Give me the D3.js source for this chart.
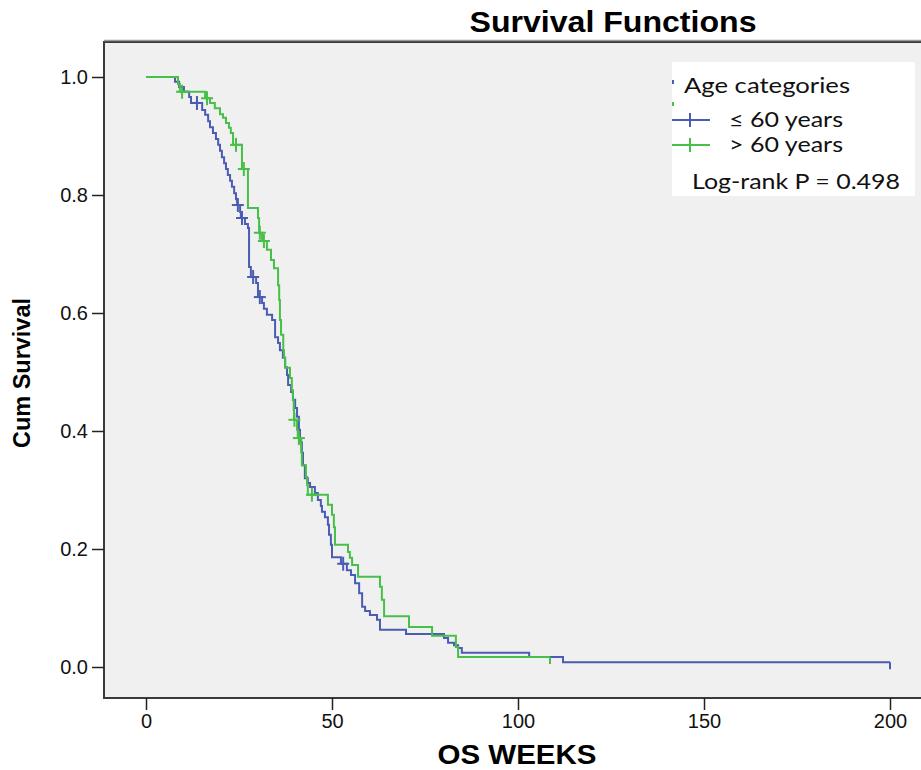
<!DOCTYPE html>
<html>
<head>
<meta charset="utf-8">
<script src="https://cdn.jsdelivr.net/npm/d3@7"></script>
<style>
  body { margin: 0; background: #fff; }
  svg { display: block; }
</style>
</head>
<body>
<div id="chart"></div>
<script>
// tick labels
const xTicks = [0, 50, 100, 150, 200]
const yTicks = [0, 0.2, 0.4, 0.6, 0.8, 1.0]

// <= 60 years: [week, survival after the drop]
const youngSteps = [
  [7.8, 0.992], [8.9, 0.983], [10.2, 0.975], [11.6, 0.966], [12.1, 0.956],
  [15.1, 0.944], [15.9, 0.936], [16.7, 0.925], [17.2, 0.915], [18.0, 0.905],
  [18.8, 0.895], [19.4, 0.885], [19.9, 0.875], [20.4, 0.864], [21.0, 0.854],
  [21.5, 0.844], [22.0, 0.834], [22.6, 0.824], [23.1, 0.814], [23.7, 0.803],
  [24.2, 0.793], [24.5, 0.783], [25.3, 0.771], [25.5, 0.761], [26.6, 0.751],
  [27.4, 0.744], [27.7, 0.678], [28.2, 0.661], [29.6, 0.651], [30.1, 0.627],
  [31.2, 0.617], [31.7, 0.607], [32.5, 0.597], [33.9, 0.588], [34.7, 0.559],
  [35.5, 0.549], [36.0, 0.537], [36.8, 0.524], [37.4, 0.508], [37.9, 0.495],
  [38.2, 0.478], [39.0, 0.466], [39.5, 0.453], [40.1, 0.439], [40.6, 0.424],
  [41.1, 0.402], [41.4, 0.381], [41.9, 0.363], [42.2, 0.342], [42.7, 0.320],
  [43.5, 0.312], [44.1, 0.305], [45.4, 0.295], [46.2, 0.283], [47.0, 0.273],
  [47.3, 0.263], [48.1, 0.254], [48.9, 0.241], [49.2, 0.224], [49.7, 0.207],
  [50.0, 0.186], [52.4, 0.175], [54.0, 0.164], [55.1, 0.156], [56.2, 0.142],
  [57.3, 0.125], [58.1, 0.102], [58.9, 0.095], [60.2, 0.088], [62.1, 0.080],
  [62.9, 0.063], [69.9, 0.056], [80.1, 0.049], [81.2, 0.041], [82.8, 0.037],
  [83.9, 0.032], [84.9, 0.024], [103.0, 0.017], [112.1, 0.008]
]
const youngCensored = [13.7, 24.7, 25.8, 28.8, 30.6, 53.0]
const youngLast = 200

// > 60 years
const oldSteps = [
  [8.6, 0.988], [9.1, 0.975], [15.9, 0.964], [17.2, 0.956], [18.5, 0.947],
  [19.9, 0.937], [20.7, 0.931], [21.5, 0.922], [22.3, 0.914], [22.8, 0.905],
  [23.4, 0.885], [25.8, 0.844], [27.4, 0.778], [30.1, 0.761], [30.4, 0.736],
  [31.2, 0.722], [32.5, 0.707], [33.6, 0.690], [34.4, 0.676], [35.5, 0.647],
  [35.8, 0.622], [36.0, 0.588], [36.3, 0.563], [36.9, 0.537], [37.1, 0.524],
  [37.4, 0.507], [38.7, 0.490], [39.2, 0.469], [39.5, 0.453], [39.7, 0.436],
  [39.8, 0.419], [40.6, 0.402], [40.8, 0.388], [41.7, 0.364], [41.9, 0.342],
  [43.0, 0.322], [43.3, 0.308], [43.5, 0.292], [48.9, 0.275], [50.0, 0.258],
  [50.5, 0.237], [50.8, 0.207], [54.3, 0.195], [54.8, 0.185], [55.4, 0.173],
  [57.0, 0.153], [62.9, 0.136], [63.4, 0.114], [64.0, 0.086], [70.7, 0.068],
  [76.9, 0.053], [83.3, 0.034], [83.9, 0.017]
]
const oldCensored = [9.7, 16.4, 24.2, 26.3, 30.6, 31.7, 39.9, 41.1, 44.6]
const oldLast = 108.6

const groups = [
  {name: '≤ 60 years', steps: youngSteps, censored: youngCensored, last: youngLast, color: '#4a5cb4'},
  {name: '> 60 years', steps: oldSteps, censored: oldCensored, last: oldLast, color: '#48bf48'}
]

const W = 921
const H = 770
const frame = {left: 104, top: 42, right: 930, bottom: 698}

const svg = d3.select('#chart').append('svg')
  .attr('width', W)
  .attr('height', H)
  .style('font-family', 'Liberation Sans, Arial, sans-serif')

const x = d3.scaleLinear().domain([0, 200]).range([146, 890])
const y = d3.scaleLinear().domain([0, 1]).range([667, 77])

// plot frame
svg.append('rect')
  .attr('x', frame.left)
  .attr('y', frame.top)
  .attr('width', frame.right - frame.left)
  .attr('height', frame.bottom - frame.top)
  .attr('fill', '#f0f0f0')
  .attr('stroke', '#3a3a3a')
  .attr('stroke-width', 2)
svg.append('line')
  .attr('x1', frame.left).attr('x2', W)
  .attr('y1', frame.top - 1.5).attr('y2', frame.top - 1.5)
  .attr('stroke', '#9a9a9a')
  .attr('stroke-width', 1.5)

// axes
const yAxis = svg.append('g')
  .attr('transform', `translate(${frame.left},0)`)
  .call(d3.axisLeft(y).tickValues(yTicks).tickFormat(d3.format('.1f')).tickSize(12).tickPadding(4))
const xAxis = svg.append('g')
  .attr('transform', `translate(0,${frame.bottom})`)
  .call(d3.axisBottom(x).tickValues(xTicks).tickSize(12).tickPadding(4))
;[xAxis, yAxis].forEach(a => {
  a.select('.domain').remove()
  a.selectAll('line').attr('stroke', '#222').attr('stroke-width', 1.5)
  a.selectAll('text')
    .attr('fill', '#111')
    .style('font-size', '20px')
    .style('font-family', 'Liberation Sans Narrow, Liberation Sans, Arial, sans-serif')
})

// step curves
const line = d3.line()
  .x(d => x(d[0]))
  .y(d => y(d[1]))
  .curve(d3.curveStepAfter)

const levelAt = (steps, t) => {
  let s = 1
  steps.forEach(d => { if (d[0] <= t) s = d[1] })
  return s
}

groups.forEach(g => {
  const endLevel = levelAt(g.steps, g.last)
  const pts = [[0, 1]].concat(g.steps, [[g.last, endLevel]])
  svg.append('path')
    .datum(pts)
    .attr('d', line)
    .attr('fill', 'none')
    .attr('stroke', g.color)
    .attr('stroke-width', 2)

  const marks = svg.append('g').attr('stroke', g.color).attr('stroke-width', 2)
  g.censored.forEach(t => {
    const cx = x(t)
    const cy = y(levelAt(g.steps, t))
    marks.append('line').attr('x1', cx - 6).attr('x2', cx + 6).attr('y1', cy).attr('y2', cy)
    marks.append('line').attr('x1', cx).attr('x2', cx).attr('y1', cy - 7).attr('y2', cy + 7)
  })
  // last censored case only shows a short drop tick
  marks.append('line')
    .attr('x1', x(g.last)).attr('x2', x(g.last))
    .attr('y1', y(endLevel)).attr('y2', y(endLevel) + 7)
})

// titles
svg.append('text')
  .attr('x', 613).attr('y', 32)
  .attr('text-anchor', 'middle')
  .style('font-size', '30px')
  .style('font-weight', 'bold')
  .attr('textLength', 287)
  .attr('lengthAdjust', 'spacingAndGlyphs')
  .text('Survival Functions')
svg.append('text')
  .attr('x', 517).attr('y', 764)
  .attr('text-anchor', 'middle')
  .style('font-size', '28px')
  .style('font-weight', 'bold')
  .attr('textLength', 159)
  .attr('lengthAdjust', 'spacingAndGlyphs')
  .text('OS WEEKS')
svg.append('text')
  .attr('transform', 'translate(30,373) rotate(-90)')
  .attr('text-anchor', 'middle')
  .style('font-size', '23px')
  .style('font-weight', 'bold')
  .attr('textLength', 150)
  .attr('lengthAdjust', 'spacingAndGlyphs')
  .text('Cum Survival')

// legend
const legend = svg.append('g').style('font-family', 'Lato, Noto Sans, sans-serif')
legend.append('rect')
  .attr('x', 672).attr('y', 62)
  .attr('width', 243).attr('height', 134)
  .attr('fill', '#fff')
legend.append('text')
  .attr('x', 684).attr('y', 93)
  .style('font-size', '22px')
  .attr('fill', '#111')
  .attr('textLength', 166)
  .attr('lengthAdjust', 'spacingAndGlyphs')
  .text('Age categories')
groups.forEach((g, i) => {
  const ly = 120 + i * 25
  legend.append('line')
    .attr('x1', 672).attr('x2', 710).attr('y1', ly).attr('y2', ly)
    .attr('stroke', g.color).attr('stroke-width', 2)
  legend.append('line')
    .attr('x1', 690).attr('x2', 690).attr('y1', ly - 7).attr('y2', ly + 7)
    .attr('stroke', g.color).attr('stroke-width', 2)
  legend.append('rect')
    .attr('x', 672).attr('y', 80 + i * 22).attr('width', 2).attr('height', 4)
    .attr('fill', g.color)
  legend.append('text')
    .attr('x', 729).attr('y', ly + 7)
    .style('font-size', '22px')
    .attr('fill', '#111')
    .attr('textLength', 114)
    .attr('lengthAdjust', 'spacingAndGlyphs')
    .text(g.name)
})
legend.append('text')
  .attr('x', 692).attr('y', 189)
  .style('font-size', '22px')
  .attr('fill', '#111')
  .attr('textLength', 208)
  .attr('lengthAdjust', 'spacingAndGlyphs')
  .text('Log-rank P = 0.498')
</script>
</body>
</html>
